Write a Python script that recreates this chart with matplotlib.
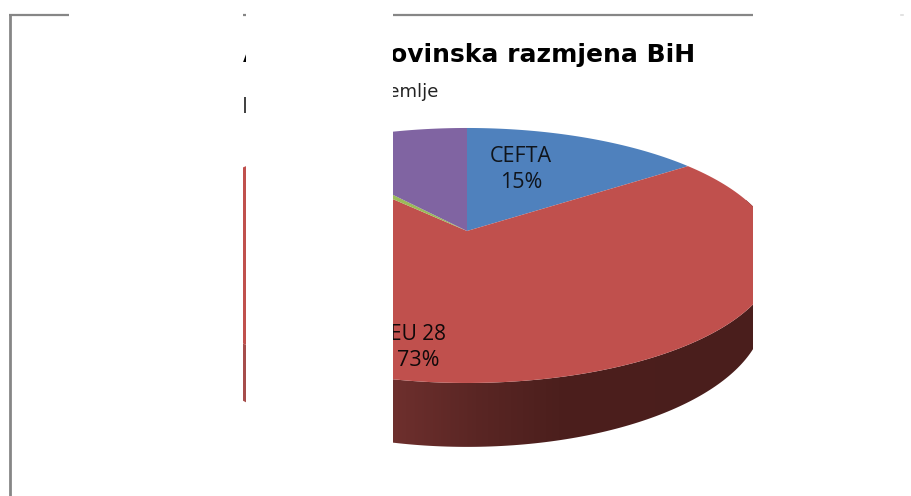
"""
Cropped 3D pie of BiH trade shares, as the white boxes leave it visible.
"""

import matplotlib
matplotlib.use("Agg")
import matplotlib.pyplot as plt
import numpy as np
from matplotlib.colors import LinearSegmentedColormap
from matplotlib.patches import Polygon, Rectangle

regions = ["CEFTA", "EU 28", "Ostalo", "EFTA"]
shares = [15, 73, 1, 11]
colors = ["#4f81bd", "#c0504d", "#9bbb59", "#8064a2"]

title_head = "A"
title_tail = "ovinska razmjena BiH"
subtitle_head = "E"
subtitle_tail = "zemlje"

plt.rcParams["font.family"] = ["Open Sans", "DejaVu Sans"]

# perspective of the pie plane, in image pixels
CX, CY = 467, 231
TILT = 0.192
TOP_X, TOP_Y = 304, 122.8
RIM_CY, RIM_X, RIM_Y = 286, 292, 130


def project(theta, x_scale=TOP_X, y_scale=TOP_Y, cy=CY):
    # theta runs clockwise from 12 o'clock, in degrees
    t = np.radians(theta)
    d = 1 + TILT * np.cos(t)
    return CX + x_scale * np.sin(t) / d, cy - y_scale * np.cos(t) / d


fig = plt.figure(figsize=(9.12, 4.96), dpi=100)
ax = fig.add_axes([0, 0, 1, 1])

# 1. Side wall of the EU slice
edges = np.cumsum([0] + shares) * 3.6
eu_from, eu_to = edges[1], edges[2]
arc = np.linspace(eu_from, eu_to, 300)
up_x, up_y = project(arc)
low_x, low_y = project(arc, RIM_X, RIM_Y, RIM_CY)
wall = Polygon(
    np.r_[np.c_[up_x, up_y], np.c_[low_x, low_y][::-1]],
    closed=True, facecolor="none", edgecolor="none",
)
ax.add_patch(wall)
shade = LinearSegmentedColormap.from_list(
    "wall",
    [(0.0, "#a84e4c"), (0.29, "#6f302e"), (0.46, "#5a2624"), (0.62, "#4c1f1d"), (1.0, "#4a1e1c")],
)
img = ax.imshow(
    np.linspace(0, 1, 256)[None, :], cmap=shade, aspect="auto",
    extent=(240, 753, 460, 200), zorder=1,
)
img.set_clip_path(wall)

# 2. Top surface
for start, stop, color in zip(edges[:-1], edges[1:], colors):
    px, py = project(np.linspace(start, stop, 200))
    ax.fill(np.r_[CX, px], np.r_[CY, py], color=color, lw=0, zorder=2)

# 3. Texts
ink = "#10151c"
ax.text(521, 157, regions[0], ha="center", va="center", fontsize=15.5, color=ink, zorder=3)
ax.text(521, 183, f"{shares[0]}%", ha="center", va="center", fontsize=15.5, color=ink, zorder=3)
ax.text(418, 334, regions[1], ha="center", va="center", fontsize=15, color="#10090a", zorder=3)
ax.text(418, 361, f"{shares[1]}%", ha="center", va="center", fontsize=15.5, color="#10090a", zorder=3)
ax.text(243, 55, title_head, ha="left", va="center", fontsize=18, fontweight="bold",
        family="DejaVu Sans", color="black", zorder=3)
ax.text(695, 55, title_tail, ha="right", va="center", fontsize=18, fontweight="bold",
        family="DejaVu Sans", color="black", zorder=3)
ax.text(242, 107, subtitle_head, ha="left", va="center", fontsize=15,
        family="DejaVu Sans", color="#444444", zorder=3)
ax.text(439, 92, subtitle_tail, ha="right", va="center", fontsize=13,
        family="DejaVu Sans", color="#222222", zorder=3)

# 4. White boxes laid over the chart
for left, right in [(12, 243.4), (246, 393), (753, 912)]:
    ax.add_patch(Rectangle((left, 17), right - left, 479, color="white", lw=0, zorder=4))

# 5. Remains of the frame
frame = "#868686"
ax.plot([10.5, 10.5], [15, 496], color=frame, lw=2.0, solid_capstyle="butt", zorder=5)
for left, right in [(9.5, 69), (243, 246), (393, 753)]:
    ax.plot([left, right], [15, 15], color=frame, lw=1.6, solid_capstyle="butt", zorder=5)
ax.plot([901, 903], [15, 15], color="#dddddd", lw=1.2, zorder=5)

ax.set_xlim(0, 912)
ax.set_ylim(496, 0)
ax.axis("off")

fig.savefig("out.png", dpi=100, facecolor="white")
plt.close(fig)
